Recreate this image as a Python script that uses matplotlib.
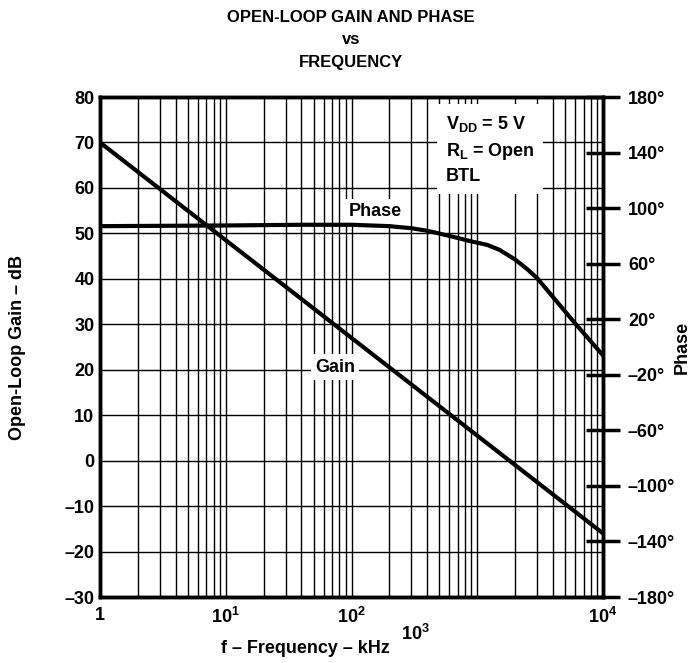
import numpy as np
import matplotlib
matplotlib.use("Agg")
import matplotlib.pyplot as plt
from matplotlib.ticker import NullFormatter, LogLocator
import matplotlib.transforms as mtransforms

plt.rcParams['font.family'] = ['Liberation Sans', 'DejaVu Sans']
plt.rcParams['font.weight'] = 'bold'
plt.rcParams['mathtext.fontset'] = 'custom'
plt.rcParams['mathtext.rm'] = 'Liberation Sans:bold'
plt.rcParams['mathtext.it'] = 'Liberation Sans:bold'
plt.rcParams['mathtext.bf'] = 'Liberation Sans:bold'

# data (frequency in kHz)
gain_freq = [1, 10000]
gain_db = [70, -16]

phase_freq = [1, 10, 40, 100, 200, 300, 400, 600, 900, 1200, 1500, 2000, 2500, 3000, 4000, 6000, 10000]
phase_deg = [87, 87.5, 88, 88, 87, 85.5, 83.7, 80, 76, 73.5, 70, 63, 56, 49.5, 36, 17, -6]

gain_ticks = [-30, -20, -10, 0, 10, 20, 30, 40, 50, 60, 70, 80]
gain_labels = ['–30', '–20', '–10', '0', '10', '20', '30', '40', '50', '60', '70', '80']
phase_ticks = [-180, -140, -100, -60, -20, 20, 60, 100, 140, 180]
phase_labels = ['–180°', '–140°', '–100°', '–60°', '–20°', '20°', '60°', '100°', '140°', '180°']
freq_ticks = [1, 10, 100, 10000]
freq_labels = ['1', r'$\mathbf{10^{1}}$', r'$\mathbf{10^{2}}$', r'$\mathbf{10^{4}}$']

fs = 13

fig = plt.figure(figsize=(6.96, 6.63), dpi=100)
ax = fig.add_axes([100 / 696, 66 / 663, 503 / 696, 500 / 663])
ax.set_xscale('log')
ax.set_xlim(1, 10000)
ax.set_ylim(-30, 80)

ax.xaxis.set_minor_locator(LogLocator(base=10, subs=np.arange(2, 10)))
ax.xaxis.set_minor_formatter(NullFormatter())
ax.set_xticks(freq_ticks, freq_labels)
ax.set_yticks(gain_ticks, gain_labels)
ax.set_axisbelow(True)
ax.grid(True, which='both', axis='x', color='black', lw=1)
ax.grid(True, which='major', axis='y', color='black', lw=1)
# 10^3 grid line (tick not labelled there)
ax.axvline(1000, color='black', lw=1, zorder=0.5)
ax.tick_params(axis='both', which='both', length=0, labelsize=fs)
ax.tick_params(axis='x', pad=7)
ax.tick_params(axis='y', pad=4)
for s in ax.spines.values():
    s.set_linewidth(2.5)

ax.plot(gain_freq, gain_db, color='black', lw=3, zorder=3, solid_capstyle='butt')

ax.set_xlabel('f – Frequency – kHz', fontsize=fs, fontweight='bold')
ax.xaxis.set_label_coords(0.408, -0.086)
ax.set_ylabel('Open-Loop Gain – dB', fontsize=fs, fontweight='bold')
ax.yaxis.set_label_coords(-0.147, 0.5)

# misplaced 10^3 label as in the original
trans = mtransforms.blended_transform_factory(ax.transData, ax.transAxes)
ax.text(320, -0.073, r'$\mathbf{10^{3}}$', transform=trans, ha='center', va='center', fontsize=fs)

ax.text(154, 54.8, 'Phase', fontsize=fs, fontweight='bold', ha='center', va='center', zorder=2.5,
        bbox=dict(facecolor='white', edgecolor='none', pad=3))
ax.text(74, 20.6, 'Gain', fontsize=fs, fontweight='bold', ha='center', va='center', zorder=2.5,
        bbox=dict(facecolor='white', edgecolor='none', pad=3))
ax.text(560, 68.5, '$\\mathbf{V_{DD}}$ = 5 V\n$\\mathbf{R_{L}}$ = Open\nBTL', fontsize=fs,
        fontweight='bold', ha='left', va='center', linespacing=1.45, zorder=2.5,
        bbox=dict(facecolor='white', edgecolor='none', boxstyle='square,pad=0.5'))

ax2 = ax.twinx()
ax2.set_ylim(-180, 180)
ax2.set_yticks(phase_ticks, phase_labels)
ax2.tick_params(axis='y', direction='inout', length=24, width=2.5, labelsize=fs, pad=6)
for s in ax2.spines.values():
    s.set_linewidth(2.5)
ax2.plot(phase_freq, phase_deg, color='black', lw=3, zorder=3)
ax2.set_ylabel('Phase', fontsize=fs, fontweight='bold')
ax2.yaxis.set_label_coords(1.14, 0.5)

for ypix, line in [(17, 'OPEN-LOOP GAIN AND PHASE'), (40, 'vs'), (63, 'FREQUENCY')]:
    fig.text(351 / 696, 1 - ypix / 663, line, ha='center', va='center', fontsize=12, fontweight='bold')

fig.savefig('out.png', dpi=100)
